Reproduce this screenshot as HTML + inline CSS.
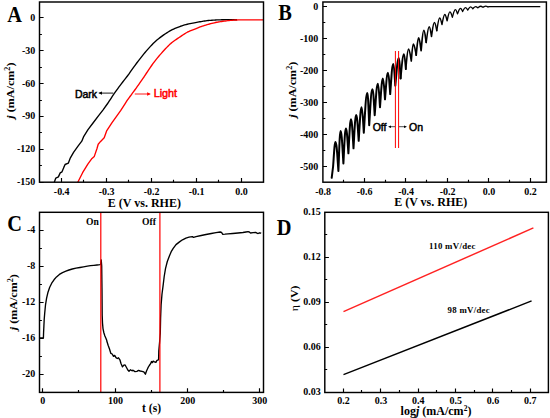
<!DOCTYPE html>
<html><head><meta charset="utf-8"><title>Figure</title>
<style>
html,body{margin:0;padding:0;background:#fff;}
body{width:550px;height:418px;overflow:hidden;font-family:"Liberation Serif",serif;}
svg{display:block;}
</style></head>
<body>
<svg width="550" height="418" viewBox="0 0 550 418">
<rect width="550" height="418" fill="#fff"/>
<path d="M54.3 182.2 L55.8 178.1 L58.4 176.9 L60.2 172.9 L62 171.8 L63.8 167.4 L65.1 164.5 L68.3 163.2 L70.1 158.4 L73.7 152.1 L78.2 145.9 L81.8 141.2 L83.5 136.9 L88 129.7 L93.4 122.5 L98.8 115.4 L102.9 110.07 L108 103 L108.56 102.14 L109.32 100.96 L110.23 99.55 L111.23 98.01 L112.27 96.44 L113.3 94.93 L114.32 93.46 L115.39 91.94 L116.49 90.39 L117.63 88.82 L118.8 87.22 L120 85.6 L121.3 83.88 L122.73 82.02 L124.18 80.15 L125.57 78.36 L126.81 76.77 L127.8 75.48 L128.42 74.65 L128.73 74.24 L128.88 74.01 L129.03 73.78 L129.35 73.31 L130 72.4 L131.02 70.98 L132.29 69.2 L133.72 67.19 L135.24 65.08 L136.76 63.01 L138.2 61.09 L139.57 59.31 L140.94 57.56 L142.31 55.84 L143.67 54.16 L145.04 52.52 L146.4 50.92 L147.75 49.36 L149.1 47.84 L150.45 46.36 L151.8 44.92 L153.15 43.55 L154.5 42.23 L155.86 40.99 L157.23 39.82 L158.59 38.7 L159.96 37.64 L161.33 36.61 L162.7 35.61 L164.07 34.65 L165.43 33.72 L166.8 32.84 L168.17 32 L169.53 31.2 L170.9 30.44 L172.27 29.72 L173.63 29.06 L175 28.43 L176.37 27.85 L177.73 27.29 L179.1 26.76 L180.47 26.26 L181.83 25.8 L183.2 25.37 L184.57 24.97 L185.93 24.59 L187.3 24.23 L188.68 23.91 L190.09 23.62 L191.49 23.36 L192.87 23.11 L194.21 22.87 L195.5 22.64 L196.71 22.4 L197.86 22.17 L198.96 21.95 L200.06 21.74 L201.16 21.54 L202.3 21.35 L203.48 21.17 L204.67 21 L205.87 20.83 L207.08 20.68 L208.29 20.54 L209.5 20.41 L210.71 20.3 L211.93 20.21 L213.14 20.14 L214.36 20.07 L215.58 20.01 L216.8 19.95 L218.02 19.9 L219.25 19.85 L220.48 19.8 L221.7 19.76 L222.91 19.73 L224.1 19.71 L225.28 19.69 L226.46 19.69 L227.63 19.69 L228.78 19.69 L229.91 19.7 L231 19.7 L232.12 19.7 L233.29 19.7 L234.43 19.7 L235.48 19.7 L236.36 19.7 L237 19.7" fill="none" stroke="#000" stroke-width="1.35" stroke-linejoin="round" stroke-linecap="butt" />
<path d="M77.8 182.2 L82.6 172.7 L88 163.8 L92 158.4 L94.3 156.4 L97 148.5 L98.2 144.3 L100.6 141.4 L104.2 137.8 L106.8 130.6 L112.2 122.32 L116.7 116.06 L120.8 110.38 L125 103.8 L125.32 103.31 L125.74 102.67 L126.24 101.89 L126.84 100.98 L127.53 99.97 L128.3 98.87 L129.19 97.63 L130.19 96.26 L131.29 94.78 L132.44 93.22 L133.62 91.62 L134.8 90 L136.03 88.28 L137.35 86.44 L138.7 84.55 L140.01 82.7 L141.24 80.96 L142.3 79.44 L143.13 78.22 L143.77 77.26 L144.31 76.42 L144.86 75.56 L145.52 74.55 L146.4 73.25 L147.52 71.59 L148.8 69.68 L150.19 67.61 L151.64 65.5 L153.1 63.44 L154.5 61.54 L155.86 59.79 L157.23 58.1 L158.59 56.47 L159.96 54.89 L161.33 53.34 L162.7 51.82 L164.07 50.31 L165.43 48.82 L166.8 47.36 L168.17 45.96 L169.53 44.62 L170.9 43.38 L172.27 42.25 L173.63 41.22 L175 40.25 L176.37 39.33 L177.73 38.43 L179.1 37.52 L180.47 36.58 L181.83 35.65 L183.2 34.72 L184.57 33.84 L185.93 33 L187.3 32.23 L188.68 31.55 L190.09 30.92 L191.49 30.35 L192.87 29.82 L194.21 29.3 L195.5 28.8 L196.71 28.31 L197.86 27.85 L198.96 27.41 L200.06 26.99 L201.16 26.58 L202.3 26.18 L203.48 25.78 L204.67 25.4 L205.87 25.04 L207.08 24.68 L208.29 24.34 L209.5 24 L210.71 23.68 L211.93 23.37 L213.14 23.07 L214.36 22.79 L215.58 22.52 L216.8 22.27 L218.02 22.04 L219.23 21.84 L220.45 21.64 L221.67 21.46 L222.88 21.29 L224.1 21.13 L225.32 20.97 L226.54 20.83 L227.76 20.69 L228.97 20.57 L230.19 20.45 L231.4 20.34 L232.4 20.25 L233.15 20.17 L233.9 20.09 L234.89 20.03 L236.38 19.98 L238.6 19.93 L242.01 19.89 L246.51 19.86 L251.5 19.84 L256.39 19.82 L260.59 19.81 L263.5 19.8" fill="none" stroke="#f00" stroke-width="1.35" stroke-linejoin="round" stroke-linecap="butt" />
<rect x="39.5" y="2" width="224" height="180.2" fill="none" stroke="#000" stroke-width="1.45"/>
<path d="M39.5 17.5h4.1M39.5 50.5h4.1M39.5 83.5h4.1M39.5 116.5h4.1M39.5 149.5h4.1M39.5 182.5h4.1" stroke="#000" stroke-width="1.15" fill="none"/>
<path d="M39.5 34.5h2.4M39.5 67.5h2.4M39.5 100.5h2.4M39.5 132.5h2.4M39.5 165.5h2.4" stroke="#000" stroke-width="1.15" fill="none"/>
<path d="M61.5 182.2v-4.1M106.5 182.2v-4.1M151.5 182.2v-4.1M196.5 182.2v-4.1M241.5 182.2v-4.1" stroke="#000" stroke-width="1.15" fill="none"/>
<path d="M83.5 182.2v-2.4M128.5 182.2v-2.4M173.5 182.2v-2.4M218.5 182.2v-2.4" stroke="#000" stroke-width="1.15" fill="none"/>
<text transform="translate(35.3 20.75) scale(1 1.08)" font-family='"Liberation Serif", serif' font-size="10" font-weight="bold" text-anchor="end" fill="#000" >0</text>
<text transform="translate(35.3 53.63) scale(1 1.08)" font-family='"Liberation Serif", serif' font-size="10" font-weight="bold" text-anchor="end" fill="#000" >-30</text>
<text transform="translate(35.3 86.51) scale(1 1.08)" font-family='"Liberation Serif", serif' font-size="10" font-weight="bold" text-anchor="end" fill="#000" >-60</text>
<text transform="translate(35.3 119.39) scale(1 1.08)" font-family='"Liberation Serif", serif' font-size="10" font-weight="bold" text-anchor="end" fill="#000" >-90</text>
<text transform="translate(35.3 152.27) scale(1 1.08)" font-family='"Liberation Serif", serif' font-size="10" font-weight="bold" text-anchor="end" fill="#000" >-120</text>
<text transform="translate(35.3 185.15) scale(1 1.08)" font-family='"Liberation Serif", serif' font-size="10" font-weight="bold" text-anchor="end" fill="#000" >-150</text>
<text transform="translate(61.7 194.8) scale(1 1.08)" font-family='"Liberation Serif", serif' font-size="10" font-weight="bold" text-anchor="middle" fill="#000" >-0.4</text>
<text transform="translate(106.65 194.8) scale(1 1.08)" font-family='"Liberation Serif", serif' font-size="10" font-weight="bold" text-anchor="middle" fill="#000" >-0.3</text>
<text transform="translate(151.6 194.8) scale(1 1.08)" font-family='"Liberation Serif", serif' font-size="10" font-weight="bold" text-anchor="middle" fill="#000" >-0.2</text>
<text transform="translate(196.55 194.8) scale(1 1.08)" font-family='"Liberation Serif", serif' font-size="10" font-weight="bold" text-anchor="middle" fill="#000" >-0.1</text>
<text transform="translate(241.5 194.8) scale(1 1.08)" font-family='"Liberation Serif", serif' font-size="10" font-weight="bold" text-anchor="middle" fill="#000" >0.0</text>
<text x="144.4" y="206.6" font-family='"Liberation Serif", serif' font-size="12" font-weight="bold" text-anchor="middle" fill="#000" >E (V vs. RHE)</text>
<text transform="translate(14.2 90.6) rotate(-90) scale(1.08 1)" font-family='"Liberation Serif", serif' font-size="11.2" font-weight="bold" text-anchor="middle" fill="#000"><tspan font-style="italic">j</tspan> (mA/cm<tspan font-size="7.5" dy="-4">2</tspan><tspan dy="4">)</tspan></text>
<text transform="translate(7.3 21.8) scale(1 1.09)" font-family='"Liberation Serif", serif' font-size="20.4" font-weight="bold" text-anchor="start" fill="#000" >A</text>
<text x="74.9" y="97.7" font-family='"Liberation Sans", sans-serif' font-size="10.5" font-weight="normal" text-anchor="start" fill="#000" stroke="#000" stroke-width="0.5">Dark</text>
<text x="153.7" y="96.9" font-family='"Liberation Sans", sans-serif' font-size="10.8" font-weight="normal" text-anchor="start" fill="#f00" stroke="#f00" stroke-width="0.5">Light</text>
<path d="M99.5 93.1H113.3" stroke="#000" stroke-width="0.9"/><path d="M98.2 93.1l3.8-1.7v3.4z" fill="#000"/>
<path d="M134.8 94H149.5" stroke="#f00" stroke-width="0.9"/><path d="M150.9 94l-3.8-1.7v3.4z" fill="#f00"/>
<path d="M331.7 177.8L332.6 170.5L333.1 166.5C334.01 153.73 334.54 141.95 335.5 141.95C336.66 141.95 337.3 155.87 338.4 170.95M338.4 170.95C339.24 150.2 339.72 131.05 340.6 131.05C341.72 131.05 342.34 146.6 343.4 163.45M343.4 163.45C344.35 145.3 344.9 128.55 345.9 128.55C346.9 128.55 347.45 140.45 348.4 153.35M348.4 153.35C349.39 135.67 349.96 119.35 351 119.35C352 119.35 352.55 133.27 353.5 148.35M353.5 148.35C354.53 130.98 355.12 114.95 356.2 114.95C357.2 114.95 357.75 127.38 358.7 140.85M358.7 140.85C359.8 123.33 360.44 107.15 361.6 107.15C362.48 107.15 362.96 119.44 363.8 132.75M363.8 132.75C365.13 112.05 365.9 92.95 367.3 92.95C368.06 92.95 368.48 108.41 369.2 125.15M369.2 125.15C370.42 106.43 371.12 89.15 372.4 89.15C373.32 89.15 373.83 101.63 374.7 115.15M374.7 115.15C375.92 98.77 376.62 83.65 377.9 83.65C378.74 83.65 379.2 94.98 380 107.25M380 107.25C381.1 92.33 381.74 78.55 382.9 78.55C383.74 78.55 384.2 88.53 385 99.35M385 99.35C386.14 85.52 386.8 72.75 388 72.75C388.88 72.75 389.36 82.97 390.2 94.05M390.2 94.05C391.38 78.4 392.06 63.95 393.3 63.95C394.1 63.95 394.54 74.37 395.3 85.65M395.3 85.65C396.67 71.25 397.46 57.95 398.9 57.95C399.58 57.95 399.95 67.79 400.6 78.45" fill="none" stroke="#000" stroke-width="2.0" stroke-linejoin="round" stroke-linecap="round"/>
<path d="M400.6 78.45C401.89 65.81 402.64 54.15 404 54.15C404.72 54.15 405.12 61.35 405.8 69.15" fill="none" stroke="#000" stroke-width="1.8" stroke-linejoin="round" stroke-linecap="round"/>
<path d="M405.8 69.15C406.83 58.75 407.42 49.15 408.5 49.15C409.62 49.15 410.24 54.86 411.3 61.05M411.3 61.05C412.06 52.26 412.5 44.15 413.3 44.15C414.46 44.15 415.1 49.43 416.2 55.15" fill="none" stroke="#000" stroke-width="1.6" stroke-linejoin="round" stroke-linecap="round"/>
<path d="M416.2 55.15C417.11 46.21 417.64 37.95 418.6 37.95C419.6 37.95 420.15 44.05 421.1 50.65M421.1 50.65C422.13 40.04 422.72 30.25 423.8 30.25C424.76 30.25 425.29 36.11 426.2 42.45" fill="none" stroke="#000" stroke-width="1.7" stroke-linejoin="round" stroke-linecap="round"/>
<path d="M426.2 42.45C427.34 34.34 428 26.85 429.2 26.85C430.12 26.85 430.63 31.51 431.5 36.55M431.5 36.55C432.6 29.22 433.24 22.45 434.4 22.45C435.36 22.45 435.89 26.39 436.8 30.65" fill="none" stroke="#000" stroke-width="1.5" stroke-linejoin="round" stroke-linecap="round"/>
<path d="M436.8 30.65C437.9 24.05 438.54 17.95 439.7 17.95C440.62 17.95 441.13 21.17 442 24.65M442 24.65C443.06 19.35 443.68 14.45 444.8 14.45C445.72 14.45 446.23 17.52 447.1 20.85M447.1 20.85C448.16 16.17 448.78 11.85 449.9 11.85C450.9 11.85 451.45 14.35 452.4 17.05" fill="none" stroke="#000" stroke-width="1.4" stroke-linejoin="round" stroke-linecap="round"/>
<path d="M452.4 17.05C453.54 13.2 454.2 9.65 455.4 9.65C456.24 9.65 456.7 11.67 457.5 13.85M457.5 13.85C458.64 11.04 459.3 8.45 460.5 8.45C461.34 8.45 461.8 9.94 462.6 11.55M462.6 11.55C463.7 9.47 464.34 7.55 465.5 7.55C466.38 7.55 466.86 8.75 467.7 10.05M467.7 10.05C468.8 8.39 469.44 6.85 470.6 6.85C471.48 6.85 471.96 7.76 472.8 8.75M472.8 8.75C473.9 7.61 474.54 6.55 475.7 6.55C476.58 6.55 477.06 7.17 477.9 7.85M477.9 7.85C479 7.02 479.64 6.25 480.8 6.25C481.68 6.25 482.16 6.73 483 7.25M483 7.25C484.1 6.68 484.74 6.15 485.9 6.15C486.66 6.15 487.08 6.49 487.8 6.85" fill="none" stroke="#000" stroke-width="1.3" stroke-linejoin="round" stroke-linecap="round"/>
<path d="M487.8 6.85L489.5 6.6L492 6.5L540.3 6.5" fill="none" stroke="#000" stroke-width="1.25" stroke-linejoin="round"/>
<path d="M395.4 51V148M398.6 51V148" stroke="#f00" stroke-width="1" fill="none"/>
<rect x="322.9" y="2" width="223.5" height="180.2" fill="none" stroke="#000" stroke-width="1.45"/>
<path d="M322.9 6.5h4.1M322.9 38.5h4.1M322.9 70.5h4.1M322.9 102.5h4.1M322.9 134.5h4.1M322.9 166.5h4.1" stroke="#000" stroke-width="1.15" fill="none"/>
<path d="M322.9 22.5h2.4M322.9 54.5h2.4M322.9 86.5h2.4M322.9 118.5h2.4M322.9 150.5h2.4" stroke="#000" stroke-width="1.15" fill="none"/>
<path d="M364.5 182.2v-4.1M405.5 182.2v-4.1M447.5 182.2v-4.1M488.5 182.2v-4.1M530.5 182.2v-4.1" stroke="#000" stroke-width="1.15" fill="none"/>
<path d="M343.5 182.2v-2.4M385.5 182.2v-2.4M426.5 182.2v-2.4M468.5 182.2v-2.4M509.5 182.2v-2.4" stroke="#000" stroke-width="1.15" fill="none"/>
<text transform="translate(318.3 9.7) scale(1 1.08)" font-family='"Liberation Serif", serif' font-size="10" font-weight="bold" text-anchor="end" fill="#000" >0</text>
<text transform="translate(318.3 41.72) scale(1 1.08)" font-family='"Liberation Serif", serif' font-size="10" font-weight="bold" text-anchor="end" fill="#000" >-100</text>
<text transform="translate(318.3 73.74) scale(1 1.08)" font-family='"Liberation Serif", serif' font-size="10" font-weight="bold" text-anchor="end" fill="#000" >-200</text>
<text transform="translate(318.3 105.76) scale(1 1.08)" font-family='"Liberation Serif", serif' font-size="10" font-weight="bold" text-anchor="end" fill="#000" >-300</text>
<text transform="translate(318.3 137.78) scale(1 1.08)" font-family='"Liberation Serif", serif' font-size="10" font-weight="bold" text-anchor="end" fill="#000" >-400</text>
<text transform="translate(318.3 169.8) scale(1 1.08)" font-family='"Liberation Serif", serif' font-size="10" font-weight="bold" text-anchor="end" fill="#000" >-500</text>
<text transform="translate(323.1 194.8) scale(1 1.08)" font-family='"Liberation Serif", serif' font-size="10" font-weight="bold" text-anchor="middle" fill="#000" >-0.8</text>
<text transform="translate(364.6 194.8) scale(1 1.08)" font-family='"Liberation Serif", serif' font-size="10" font-weight="bold" text-anchor="middle" fill="#000" >-0.6</text>
<text transform="translate(406.1 194.8) scale(1 1.08)" font-family='"Liberation Serif", serif' font-size="10" font-weight="bold" text-anchor="middle" fill="#000" >-0.4</text>
<text transform="translate(447.6 194.8) scale(1 1.08)" font-family='"Liberation Serif", serif' font-size="10" font-weight="bold" text-anchor="middle" fill="#000" >-0.2</text>
<text transform="translate(489.1 194.8) scale(1 1.08)" font-family='"Liberation Serif", serif' font-size="10" font-weight="bold" text-anchor="middle" fill="#000" >0.0</text>
<text transform="translate(530.6 194.8) scale(1 1.08)" font-family='"Liberation Serif", serif' font-size="10" font-weight="bold" text-anchor="middle" fill="#000" >0.2</text>
<text x="430.7" y="205.8" font-family='"Liberation Serif", serif' font-size="12" font-weight="bold" text-anchor="middle" fill="#000" >E (V vs. RHE)</text>
<text transform="translate(296 89.8) rotate(-90) scale(1.08 1)" font-family='"Liberation Serif", serif' font-size="11.2" font-weight="bold" text-anchor="middle" fill="#000"><tspan font-style="italic">j</tspan> (mA/cm<tspan font-size="7.5" dy="-4">2</tspan><tspan dy="4">)</tspan></text>
<text transform="translate(278.2 19.9) scale(1 1.09)" font-family='"Liberation Serif", serif' font-size="20.4" font-weight="bold" text-anchor="start" fill="#000" >B</text>
<text x="372.7" y="130.9" font-family='"Liberation Sans", sans-serif' font-size="10.5" font-weight="normal" text-anchor="start" fill="#000" stroke="#000" stroke-width="0.5">Off</text>
<text x="409" y="130.9" font-family='"Liberation Sans", sans-serif' font-size="10.5" font-weight="normal" text-anchor="start" fill="#000" stroke="#000" stroke-width="0.5">On</text>
<path d="M389.5 126.7H395M399 126.7H405.5" stroke="#000" stroke-width="0.7"/><path d="M388 126.7l3-1.3v2.6zM407 126.7l-3-1.3v2.6z" fill="#000"/>
<path d="M40 338 L43.4 338 L43.6 332 L43.9 326.1 L44.2 319.5 L44.7 313.2 L45.5 305 L46.6 298.1 L48 292.2 L49.7 287.3 L51.7 283.2 L54 279.8 L56.5 276.9 L59.4 274.4 L62.5 272.6 L65.9 271.2 L69 270 L72.3 269 L76 268.2 L79.9 267.5 L83.5 266.8 L87.4 266.2 L90.5 265.7 L93.9 265.3 L97 265 L99.9 264.7 L100.6 264.3 L101.2 259.9 L101.7 266 L102 290 L102.2 315.3 L102.5 323 L103 328.6 L103.8 332.5 L104.9 336 L105.9 338.2 L106.8 340.5 L106.8 341 L108.2 345.5 L109.5 349 L110.8 353.3 L112.2 354 L113.5 356.3 L114.7 355.4 L116 357.6 L117.3 358.5 L118.5 357.8 L119.9 359.8 L121 363.5 L122.5 366.9 L123.8 365.2 L125.1 365 L126.5 367.5 L127.8 370 L129 371.2 L130.5 369.8 L132 370.8 L133 370.2 L135 371.6 L136.9 371.3 L138.5 370.4 L140.2 371 L142 371.3 L143.8 371.8 L145.4 374.2 L146.5 371 L148 367.7 L149.3 365.5 L150.6 363.7 L151.5 361.5 L152.3 362.6 L153.2 361.1 L154.5 361.8 L155.9 362.4 L157 360.3 L158.5 359.8 L158.6 358.8 L158.8 351 L159.6 342 L160.3 333 L160.6 318 L161.1 305 L162 294 L163 286.4 L164.2 276.5 L165.5 268.6 L167.3 261.5 L169.4 255.9 L171.2 251.7 L173.2 248.3 L176 244.6 L179.5 241.9 L182.5 239.8 L185.9 238.1 L189 237.2 L192.3 236.6 L193.5 237.3 L196 236.6 L201.2 235.5 L206 234.5 L211.3 233.5 L216 232.7 L220.2 232 L221.5 232.4 L222.8 234.3 L225 234.2 L228 233.9 L232.7 233.5 L238 233 L242.9 232.5 L246 232 L248 231.7 L249.3 232 L250.5 233 L253 232.6 L255.6 232.4 L257 233.2 L258.1 233.5 L259.6 232.8 L261.2 233.2" fill="none" stroke="#000" stroke-width="1.35" stroke-linejoin="round" stroke-linecap="butt" />
<path d="M100.8 212.3V392.4M159.9 212.3V392.4" stroke="#f00" stroke-width="1.2" fill="none"/>
<rect x="39.5" y="212.3" width="224" height="180.1" fill="none" stroke="#000" stroke-width="1.45"/>
<path d="M39.5 230.5h4.1M39.5 266.5h4.1M39.5 302.5h4.1M39.5 338.5h4.1M39.5 374.5h4.1" stroke="#000" stroke-width="1.15" fill="none"/>
<path d="M39.5 248.5h2.4M39.5 284.5h2.4M39.5 320.5h2.4M39.5 356.5h2.4" stroke="#000" stroke-width="1.15" fill="none"/>
<path d="M42.5 392.4v-4.1M115.5 392.4v-4.1M187.5 392.4v-4.1M259.5 392.4v-4.1" stroke="#000" stroke-width="1.15" fill="none"/>
<path d="M78.5 392.4v-2.4M151.5 392.4v-2.4M223.5 392.4v-2.4" stroke="#000" stroke-width="1.15" fill="none"/>
<text transform="translate(35.3 232.85) scale(1 1.08)" font-family='"Liberation Serif", serif' font-size="10" font-weight="bold" text-anchor="end" fill="#000" >-4</text>
<text transform="translate(35.3 268.85) scale(1 1.08)" font-family='"Liberation Serif", serif' font-size="10" font-weight="bold" text-anchor="end" fill="#000" >-8</text>
<text transform="translate(35.3 304.85) scale(1 1.08)" font-family='"Liberation Serif", serif' font-size="10" font-weight="bold" text-anchor="end" fill="#000" >-12</text>
<text transform="translate(35.3 340.85) scale(1 1.08)" font-family='"Liberation Serif", serif' font-size="10" font-weight="bold" text-anchor="end" fill="#000" >-16</text>
<text transform="translate(35.3 376.85) scale(1 1.08)" font-family='"Liberation Serif", serif' font-size="10" font-weight="bold" text-anchor="end" fill="#000" >-20</text>
<text transform="translate(42.8 403.7) scale(1 1.08)" font-family='"Liberation Serif", serif' font-size="10" font-weight="bold" text-anchor="middle" fill="#000" >0</text>
<text transform="translate(115.5 403.7) scale(1 1.08)" font-family='"Liberation Serif", serif' font-size="10" font-weight="bold" text-anchor="middle" fill="#000" >100</text>
<text transform="translate(187.7 403.7) scale(1 1.08)" font-family='"Liberation Serif", serif' font-size="10" font-weight="bold" text-anchor="middle" fill="#000" >200</text>
<text transform="translate(259.8 403.7) scale(1 1.08)" font-family='"Liberation Serif", serif' font-size="10" font-weight="bold" text-anchor="middle" fill="#000" >300</text>
<text x="151.6" y="412" font-family='"Liberation Serif", serif' font-size="11.6" font-weight="bold" text-anchor="middle" fill="#000" >t (s)</text>
<text transform="translate(17 302.2) rotate(-90) scale(1.08 1)" font-family='"Liberation Serif", serif' font-size="11.2" font-weight="bold" text-anchor="middle" fill="#000"><tspan font-style="italic">j</tspan> (mA/cm<tspan font-size="7.5" dy="-4">2</tspan><tspan dy="4">)</tspan></text>
<text transform="translate(7.2 230.8) scale(1 1.09)" font-family='"Liberation Serif", serif' font-size="20.4" font-weight="bold" text-anchor="start" fill="#000" >C</text>
<text x="86" y="224.6" font-family='"Liberation Serif", serif' font-size="9.6" font-weight="bold" text-anchor="start" fill="#000" >On</text>
<text x="142.1" y="224.6" font-family='"Liberation Serif", serif' font-size="9.6" font-weight="bold" text-anchor="start" fill="#000" >Off</text>
<path d="M343.5 311.7 L533.4 227.9" fill="none" stroke="#f22" stroke-width="1.45" stroke-linejoin="round" stroke-linecap="butt" />
<path d="M343.5 374.7 L531.6 300.9" fill="none" stroke="#000" stroke-width="1.45" stroke-linejoin="round" stroke-linecap="butt" />
<rect x="324.8" y="212.3" width="223.6" height="180.2" fill="none" stroke="#000" stroke-width="1.45"/>
<path d="M324.8 257.5h4.1M324.8 302.5h4.1M324.8 347.5h4.1" stroke="#000" stroke-width="1.15" fill="none"/>
<path d="M324.8 234.5h2.4M324.8 279.5h2.4M324.8 324.5h2.4M324.8 369.5h2.4" stroke="#000" stroke-width="1.15" fill="none"/>
<path d="M343.5 392.5v-4.1M380.5 392.5v-4.1M418.5 392.5v-4.1M455.5 392.5v-4.1M492.5 392.5v-4.1M530.5 392.5v-4.1" stroke="#000" stroke-width="1.15" fill="none"/>
<path d="M361.5 392.5v-2.4M399.5 392.5v-2.4M436.5 392.5v-2.4M474.5 392.5v-2.4M511.5 392.5v-2.4" stroke="#000" stroke-width="1.15" fill="none"/>
<text transform="translate(320.8 215.45) scale(1 1.08)" font-family='"Liberation Serif", serif' font-size="10" font-weight="bold" text-anchor="end" fill="#000" >0.15</text>
<text transform="translate(320.8 260.45) scale(1 1.08)" font-family='"Liberation Serif", serif' font-size="10" font-weight="bold" text-anchor="end" fill="#000" >0.12</text>
<text transform="translate(320.8 305.45) scale(1 1.08)" font-family='"Liberation Serif", serif' font-size="10" font-weight="bold" text-anchor="end" fill="#000" >0.09</text>
<text transform="translate(320.8 350.45) scale(1 1.08)" font-family='"Liberation Serif", serif' font-size="10" font-weight="bold" text-anchor="end" fill="#000" >0.06</text>
<text transform="translate(320.8 395.45) scale(1 1.08)" font-family='"Liberation Serif", serif' font-size="10" font-weight="bold" text-anchor="end" fill="#000" >0.03</text>
<text transform="translate(343.6 404.2) scale(1 1.08)" font-family='"Liberation Serif", serif' font-size="10" font-weight="bold" text-anchor="middle" fill="#000" >0.2</text>
<text transform="translate(380.95 404.2) scale(1 1.08)" font-family='"Liberation Serif", serif' font-size="10" font-weight="bold" text-anchor="middle" fill="#000" >0.3</text>
<text transform="translate(418.3 404.2) scale(1 1.08)" font-family='"Liberation Serif", serif' font-size="10" font-weight="bold" text-anchor="middle" fill="#000" >0.4</text>
<text transform="translate(455.65 404.2) scale(1 1.08)" font-family='"Liberation Serif", serif' font-size="10" font-weight="bold" text-anchor="middle" fill="#000" >0.5</text>
<text transform="translate(493 404.2) scale(1 1.08)" font-family='"Liberation Serif", serif' font-size="10" font-weight="bold" text-anchor="middle" fill="#000" >0.6</text>
<text transform="translate(530.35 404.2) scale(1 1.08)" font-family='"Liberation Serif", serif' font-size="10" font-weight="bold" text-anchor="middle" fill="#000" >0.7</text>
<text x="436" y="414.6" font-family='"Liberation Serif", serif' font-size="12" font-weight="bold" text-anchor="middle" fill="#000" >log<tspan font-style="italic">j</tspan> (mA/cm<tspan font-size="7.5" dy="-4">2</tspan><tspan dy="4">)</tspan></text>
<text transform="translate(298.4 298.4) rotate(-90) scale(1.04 1)" font-family='"Liberation Serif", serif' font-size="11.4" font-weight="bold" text-anchor="middle" fill="#000"><tspan font-weight="normal">&#951;</tspan> (V)</text>
<text transform="translate(276.8 234.5) scale(1 1.09)" font-family='"Liberation Serif", serif' font-size="20.4" font-weight="bold" text-anchor="start" fill="#000" >D</text>
<text x="429" y="249.2" font-family='"Liberation Serif", serif' font-size="8.8" font-weight="bold" text-anchor="start" fill="#000" letter-spacing="0.3">110 mV/dec</text>
<text x="447.5" y="313.4" font-family='"Liberation Serif", serif' font-size="8.8" font-weight="bold" text-anchor="start" fill="#000" letter-spacing="0.3">98 mV/dec</text>
</svg>
</body></html>
